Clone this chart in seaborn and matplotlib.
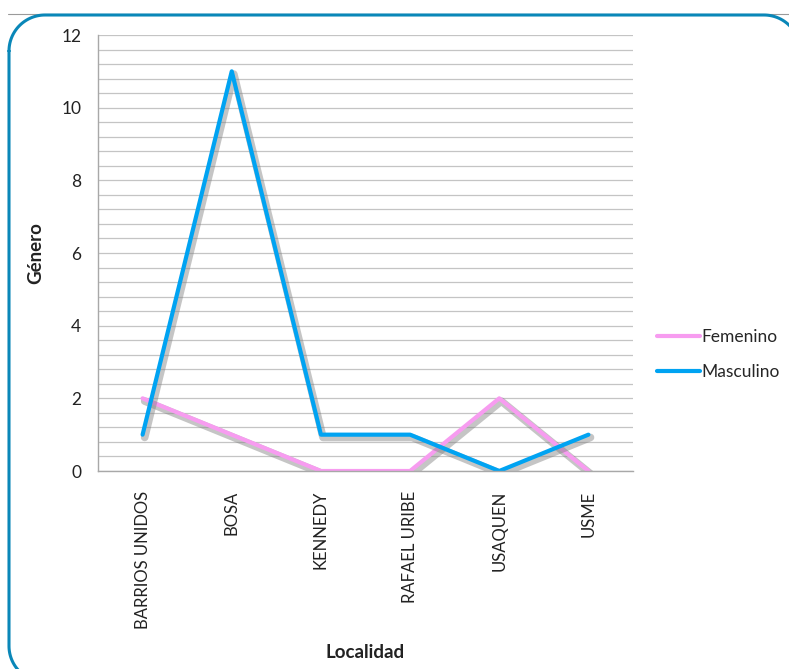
import matplotlib
matplotlib.use("Agg")
import matplotlib.pyplot as plt
import matplotlib.patheffects as pe
import numpy as np
import pandas as pd
import seaborn as sns

# === Data ===
localidades = ["BARRIOS UNIDOS", "BOSA", "KENNEDY", "RAFAEL URIBE", "USAQUEN", "USME"]
femenino = [2, 1, 0, 0, 2, 0]
masculino = [1, 11, 1, 1, 0, 1]

df = pd.DataFrame({
    "Localidad": localidades * 2,
    "Valor": femenino + masculino,
    "Género": ["Femenino"] * len(localidades) + ["Masculino"] * len(localidades),
})

sns.set_style("white")
plt.rcParams["font.family"] = ["Lato", "DejaVu Sans"]

fig = plt.figure(figsize=(7.89, 6.69), dpi=100)


def rounded_rect(x0, y0, x1, y1, r, n=30):
    # outline of a rounded rectangle, y pointing down
    t = np.linspace(0, np.pi / 2, n)
    xs, ys = [], []
    corners = [(x0 + r, y0 + r, np.pi), (x1 - r, y0 + r, 1.5 * np.pi),
               (x1 - r, y1 - r, 0), (x0 + r, y1 - r, 0.5 * np.pi)]
    for cx, cy, a0 in corners:
        xs.extend(cx + r * np.cos(a0 + t))
        ys.extend(cy + r * np.sin(a0 + t))
    xs.append(xs[0])
    ys.append(ys[0])
    return xs, ys


# background layer in pixel units for the rounded frame
bg = fig.add_axes([0, 0, 1, 1])
bg.set_xlim(0, 789)
bg.set_ylim(669, 0)
bg.axis("off")
bg.plot([8, 789], [14, 14], color="#9a9a9a", linewidth=0.8)
fx, fy = rounded_rect(9, 15, 800, 682, 36)
bg.plot(fx, fy, color="#0a87b8", linewidth=2.2, clip_on=False)

ax = fig.add_axes([98 / 789, 1 - 471 / 669, (633 - 98) / 789, (471 - 35) / 669])
ax.patch.set_alpha(0)

shadow = [pe.SimpleLineShadow(offset=(1.5, -2), shadow_color="gray", alpha=0.45, linewidth=5.5),
          pe.Normal()]
sns.lineplot(data=df, x="Localidad", y="Valor", hue="Género", sort=False,
             palette={"Femenino": "#f79cf0", "Masculino": "#00a3f2"},
             linewidth=3, ax=ax)
for ln in ax.lines:
    ln.set_path_effects(shadow)

# === Axes styling ===
ax.set_xlim(-0.5, len(localidades) - 0.5)
ax.set_ylim(0, 12)
ax.set_yticks(np.arange(0, 13, 2))
ax.set_yticks(np.arange(0, 12.01, 0.4), minor=True)
ax.grid(True, which="both", axis="y", color="#c4c4c4", linewidth=0.9)
ax.set_axisbelow(True)
for side in ["top", "right"]:
    ax.spines[side].set_visible(False)
for side in ["left", "bottom"]:
    ax.spines[side].set_color("#a8a8a8")
    ax.spines[side].set_linewidth(1)
ax.tick_params(axis="x", labelrotation=90, labelsize=12, colors="#222222", length=0, pad=14)
ax.tick_params(axis="y", labelsize=12.5, colors="#222222", length=0, pad=12)
ax.tick_params(axis="y", which="minor", length=0)

ax.set_xlabel("Localidad", fontsize=13.5, fontweight="bold", color="#222222")
ax.set_ylabel("Género", fontsize=13.5, fontweight="bold", color="#222222")
ax.xaxis.set_label_coords(0.5, -(644 - 471) / 436)
ax.yaxis.set_label_coords((44 - 98) / 535, 0.5)

leg = ax.legend(loc="center left", bbox_to_anchor=(1.015, 0.267), frameon=False,
                fontsize=12.5, handlelength=2.5, handletextpad=0.1, labelspacing=1.1)
for h in leg.get_lines():
    h.set_linewidth(3)
    h.set_path_effects([])

fig.savefig("out.png", dpi=100)
